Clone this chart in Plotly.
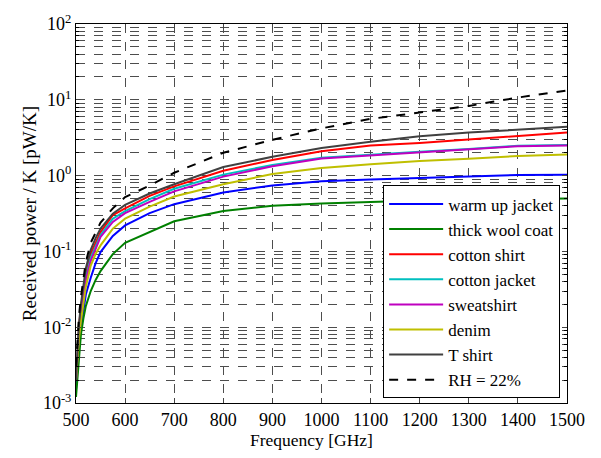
import plotly.graph_objects as go

freq = [500, 503, 506, 510, 515, 520, 530, 540, 550, 575, 600, 650, 700, 800, 900, 1000, 1100, 1200, 1300, 1400, 1500]

warm_up_jacket = [0.0015, 0.003, 0.006, 0.010, 0.017, 0.027, 0.045, 0.070, 0.098, 0.16, 0.22, 0.32, 0.42, 0.60, 0.74, 0.84, 0.89, 0.92, 0.97, 1.02, 1.03]
thick_wool_coat = [0.0012, 0.002, 0.004, 0.008, 0.013, 0.019, 0.030, 0.042, 0.055, 0.092, 0.13, 0.18, 0.25, 0.34, 0.40, 0.43, 0.45, 0.47, 0.48, 0.49, 0.50]
cotton_shirt = [0.002, 0.005, 0.010, 0.018, 0.031, 0.050, 0.093, 0.13, 0.18, 0.30, 0.37, 0.54, 0.72, 1.16, 1.61, 2.10, 2.49, 2.70, 3.00, 3.35, 3.70]
cotton_jacket = [0.002, 0.005, 0.009, 0.016, 0.028, 0.045, 0.082, 0.115, 0.165, 0.27, 0.34, 0.49, 0.67, 1.03, 1.38, 1.72, 1.90, 2.07, 2.24, 2.47, 2.53]
sweatshirt = [0.002, 0.005, 0.008, 0.014, 0.025, 0.042, 0.075, 0.108, 0.155, 0.245, 0.32, 0.45, 0.62, 0.97, 1.33, 1.68, 1.85, 2.04, 2.21, 2.44, 2.50]
denim = [0.002, 0.004, 0.007, 0.012, 0.021, 0.034, 0.065, 0.093, 0.12, 0.20, 0.27, 0.39, 0.53, 0.77, 1.05, 1.26, 1.41, 1.56, 1.67, 1.81, 1.90]
t_shirt = [0.002, 0.006, 0.011, 0.020, 0.036, 0.060, 0.105, 0.15, 0.20, 0.315, 0.41, 0.58, 0.77, 1.30, 1.77, 2.32, 2.80, 3.30, 3.70, 4.07, 4.40]
rh_22 = [0.003, 0.008, 0.014, 0.025, 0.046, 0.072, 0.13, 0.18, 0.24, 0.37, 0.52, 0.74, 1.09, 2.00, 2.97, 4.20, 5.60, 6.80, 8.30, 10.70, 13.30]

series = [
    ("warm up jacket", warm_up_jacket, "#0000FF", "solid"),
    ("thick wool coat", thick_wool_coat, "#008000", "solid"),
    ("cotton shirt", cotton_shirt, "#FF0000", "solid"),
    ("cotton jacket", cotton_jacket, "#00BFBF", "solid"),
    ("sweatshirt", sweatshirt, "#BF00BF", "solid"),
    ("denim", denim, "#BFBF00", "solid"),
    ("T shirt", t_shirt, "#404040", "solid"),
    ("RH = 22%", rh_22, "#000000", "dash"),
]

x_ticks = [500, 600, 700, 800, 900, 1000, 1100, 1200, 1300, 1400, 1500]
y_tickvals = [1e-3, 1e-2, 1e-1, 1e0, 1e1, 1e2]
y_ticktext = ["10<sup>-3</sup>", "10<sup>-2</sup>", "10<sup>-1</sup>", "10<sup>0</sup>", "10<sup>1</sup>", "10<sup>2</sup>"]

fig = go.Figure()
for name, vals, color, dash in series:
    fig.add_trace(go.Scatter(x=freq, y=vals, mode="lines", name=name,
                             line=dict(color=color, width=2, dash=dash)))

font_family = "Liberation Serif"
grid_col = "#4d4d4d"

# plot area in pixels: left 76, right 567, top 15, bottom 403
fig.update_layout(
    width=601, height=458,
    margin=dict(l=76, r=34, t=15, b=55),
    paper_bgcolor="white", plot_bgcolor="white",
    font=dict(family=font_family, size=17, color="black"),
    showlegend=True,
    legend=dict(x=0.986, y=0.012, xanchor="right", yanchor="bottom",
                bgcolor="white", bordercolor="black", borderwidth=1,
                font=dict(family=font_family, size=17, color="black"),
                itemwidth=54, tracegroupgap=0),
    xaxis=dict(range=[500, 1500], tickvals=x_ticks, ticks="inside", ticklen=5,
               tickfont=dict(family=font_family, size=18),
               showline=True, linecolor="black", linewidth=1, mirror="ticks",
               showgrid=True, gridcolor=grid_col, griddash="dash", gridwidth=1,
               zeroline=False),
    yaxis=dict(type="log", range=[-3, 2], tickvals=y_tickvals, ticktext=y_ticktext,
               ticks="inside", ticklen=5,
               tickfont=dict(family=font_family, size=18),
               showline=True, linecolor="black", linewidth=1, mirror="ticks",
               showgrid=True, gridcolor=grid_col, griddash="dash", gridwidth=1,
               zeroline=False,
               minor=dict(dtick="D1", showgrid=True, gridcolor=grid_col, griddash="dash",
                          ticks="inside", ticklen=3, tickcolor="black"),
               title=dict(text="Received power / K [pW/K]", standoff=1,
                          font=dict(family=font_family, size=19))),
    annotations=[dict(text="Frequency [GHz]", x=(311 - 76) / 491, y=-(441 - 403) / 388,
                      xref="paper", yref="paper", xanchor="center", yanchor="middle",
                      showarrow=False, font=dict(family=font_family, size=17.5))],
)

fig.write_html("out.html")
